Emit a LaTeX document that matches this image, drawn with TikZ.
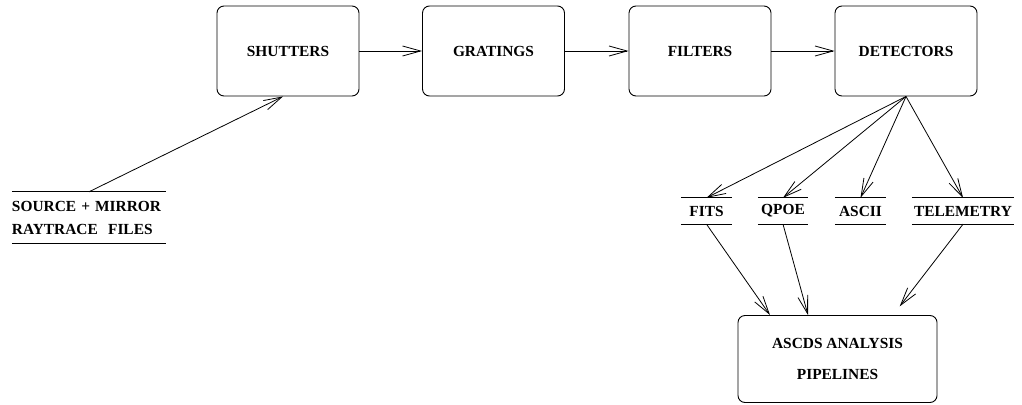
\documentclass[tikz,border=0pt]{standalone}
\usepackage{fontspec}
\setmainfont{Liberation Serif}
\usetikzlibrary{arrows.meta}
\begin{document}
\begin{tikzpicture}[x=1pt,y=-1pt,
 every node/.style={font=\fontsize{15.4}{23}\selectfont\bfseries},
 box/.style={draw, rounded corners=7pt, minimum width=142pt, minimum height=90pt, inner sep=0pt, line width=0.9pt},
 store/.style={inner sep=0pt, minimum height=26pt},
 conn/.style={line width=0.8pt, -{Straight Barb[length=18pt,width=10pt,line width=0.8pt]}},
 rule/.style={line width=0.8pt}]
\useasboundingbox (0,0) rectangle (1022,404);
% process boxes
\node[box] (sh) at (288,51) {SHUTTERS};
\node[box] (gr) at (493.5,51) {GRATINGS};
\node[box] (fi) at (700,51) {FILTERS};
\node[box] (det) at (906,51) {DETECTORS};
\node[box, minimum width=199pt, minimum height=87pt, align=center,
      font=\fontsize{15.4}{31}\selectfont\bfseries] (asc) at (837.5,359) {ASCDS ANALYSIS\\PIPELINES};
% data stores
\node[store, text width=154pt, align=left, minimum height=51pt] (src) at (89,217.5) {SOURCE + MIRROR\\RAYTRACE\ \ FILES};
\node[store, minimum width=51pt] (fits) at (706.5,211) {FITS};
\node[store, minimum width=50pt] (qpoe) at (783,211) {QPOE};
\node[store, minimum width=51pt] (ascii) at (860.5,211) {ASCII};
\node[store, minimum width=102pt] (tel) at (963,211) {TELEMETRY};
\foreach \n in {src,fits,qpoe,ascii,tel}{
  \draw[rule] (\n.north west) -- (\n.north east);
  \draw[rule] (\n.south west) -- (\n.south east);
}
% connectors
\draw[conn] (sh.east) -- (gr.west);
\draw[conn] (gr.east) -- (fi.west);
\draw[conn] (fi.east) -- (det.west);
\draw[conn] (src.north) -- ([xshift=-5pt]sh.south);
\draw[conn] (det.south) -- (fits.north);
\draw[conn] (det.south) -- (qpoe.north);
\draw[conn] (det.south) -- (ascii.north);
\draw[conn] (det.south) -- (tel.north);
\draw[conn] (fits.south) -- ([xshift=-67.5pt]asc.north);
\draw[conn] (qpoe.south) -- ([xshift=-29.5pt]asc.north);
\draw[conn, shorten >=11pt] (tel.south) -- ([xshift=55.5pt]asc.north);
\end{tikzpicture}
\end{document}
